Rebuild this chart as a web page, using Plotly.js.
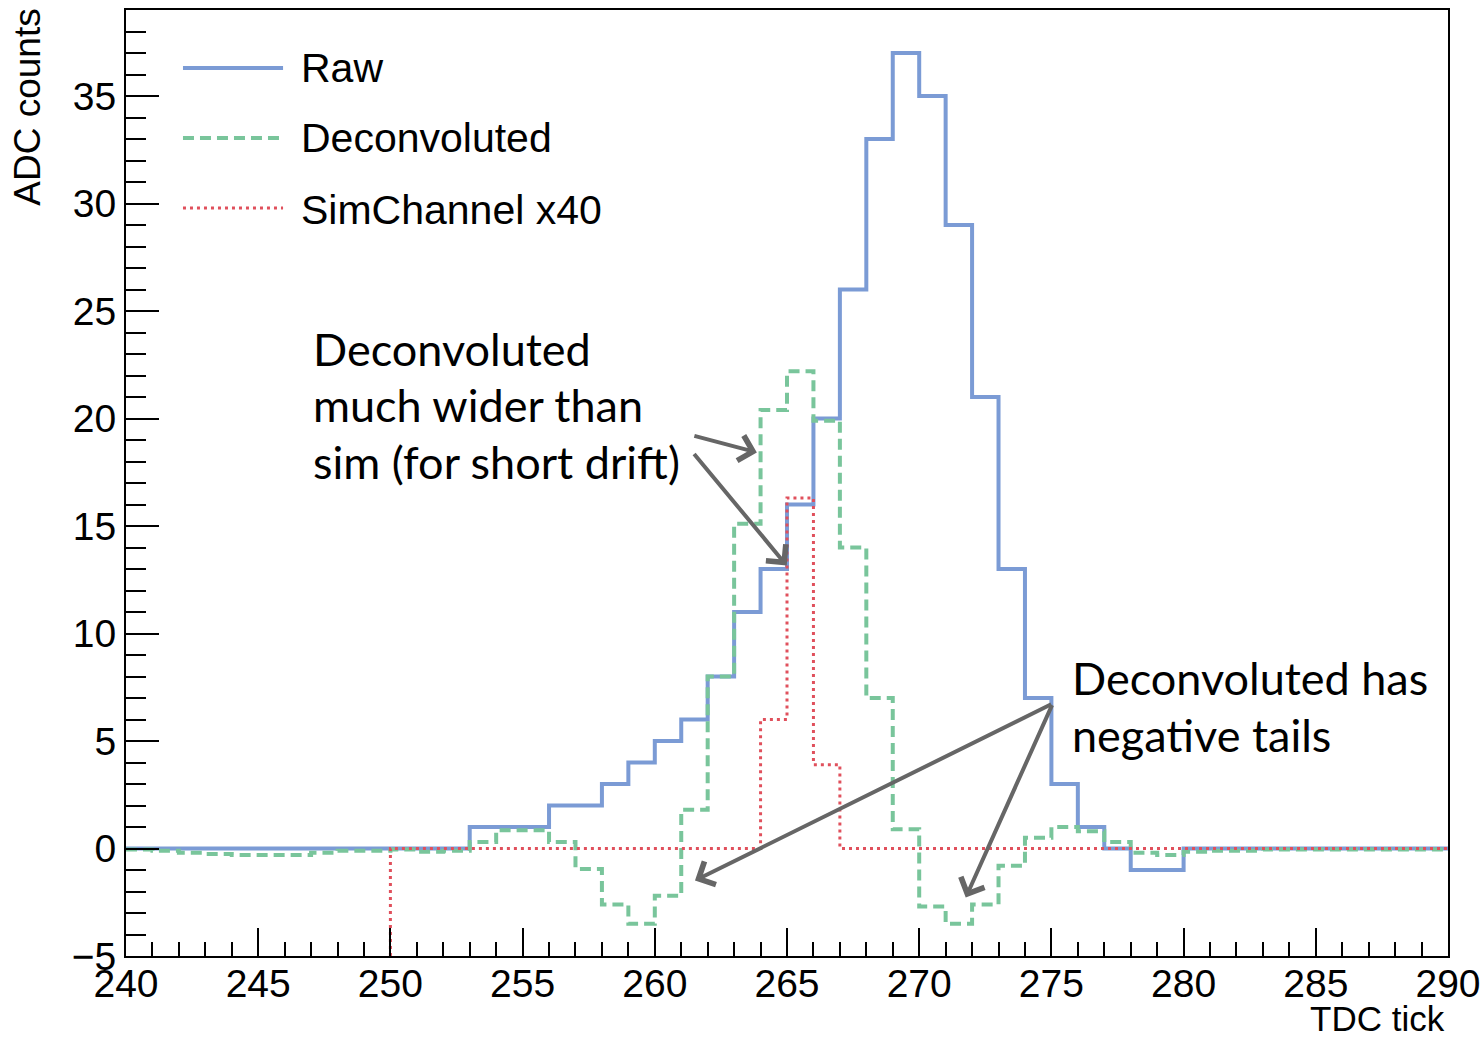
<!DOCTYPE html>
<html>
<head>
<meta charset="utf-8">
<script src="https://cdn.plot.ly/plotly-3.0.1.min.js"></script>
<style>html,body{margin:0;padding:0;background:#fff;}#chart{width:1480px;height:1041px;}</style>
</head>
<body>
<div id="chart"></div>
<script>
// ---- Data ----
// Bin edges for Raw and Deconvoluted histograms (TDC tick)
const binEdges = [240,241,242,243,244,245,246,247,248,249,250,251,252,253,254,255,256,257,258,259,
                  260,261,262,263,264,265,266,267,268,269,270,271,272,273,274,275,276,277,278,279,
                  280,281,282,283,284,285,286,287,288,289,290];
// Raw ADC counts per bin (240..289)
const rawCounts = [0,0,0,0,0,0,0,0,0,0,0,0,0,1,1,1,2,2,3,4,
                   5,6,8,11,13,16,20,26,33,37,35,29,21,13,7,3,1,0,-1,-1,
                   0,0,0,0,0,0,0,0,0,0];
// Deconvoluted per bin (240..289)
const deconvCounts = [-0.05,-0.1,-0.2,-0.25,-0.3,-0.3,-0.3,-0.2,-0.1,-0.1,-0.05,-0.15,-0.1,0.3,0.85,0.85,0.3,-0.95,-2.6,-3.5,
                      -2.2,1.8,8,15.1,20.4,22.2,19.9,14,7,0.9,-2.7,-3.5,-2.6,-0.8,0.5,1.0,0.8,0.3,-0.2,-0.3,
                      -0.15,-0.1,-0.1,-0.05,-0.05,-0.05,-0.05,-0.05,-0.05,-0.05];
// SimChannel x40 histogram starts at 250
const simEdges = [250,251,252,253,254,255,256,257,258,259,260,261,262,263,264,265,266,267,268,269,
                  270,271,272,273,274,275,276,277,278,279,280,281,282,283,284,285,286,287,288,289,290];
const simCounts = [0,0,0,0,0,0,0,0,0,0,0,0,0,0,6,16.3,3.9,0,0,0,
                   0,0,0,0,0,0,0,0,0,0,0,0,0,0,0,0,0,0,0,0];
const seriesNames = ["Raw", "Deconvoluted", "SimChannel x40"];
const xTickVals = [240,245,250,255,260,265,270,275,280,285,290];
const yTickVals = [-5,0,5,10,15,20,25,30,35];
const note1Lines = ["Deconvoluted", "much wider than", "sim (for short drift)"];
const note2Lines = ["Deconvoluted has", "negative tails"];

// ---- Styles ----
const X_RANGE = [240, 290];
const Y_RANGE = [-5, 39];
const COLORS = ["#7b9bd5", "#79c59b", "#e0505c"];
const DASHES = ["solid", "11px,6px", "3px,4px"];
const WIDTHS = [4, 4, 3];
const SANS = "Liberation Sans, Arial, sans-serif";
const AXFONT = {family: SANS, size: 39, color: "#000"};
const NOTEFONT = {family: "Lato, Open Sans, sans-serif", size: 45, color: "#000"};

function stepTrace(edges, vals, idx, fromBottom) {
  const x = edges.slice();
  const y = vals.concat([vals[vals.length - 1]]);
  if (fromBottom) { x.unshift(edges[0]); y.unshift(Y_RANGE[0]); }
  return {
    type: "scatter", mode: "lines", x: x, y: y, name: seriesNames[idx],
    line: {shape: "hv", color: COLORS[idx], width: WIDTHS[idx], dash: DASHES[idx]},
    showlegend: false, hoverinfo: "skip"
  };
}

const traces = [
  stepTrace(binEdges, rawCounts, 0, false),
  stepTrace(binEdges, deconvCounts, 1, false),
  stepTrace(simEdges, simCounts, 2, true)
];

// ---- Legend drawn manually (long line samples as in the reference) ----
const legendY = [0.9387, 0.8647, 0.7907];
const shapes = seriesNames.map((n, i) => ({
  type: "line", xref: "paper", yref: "paper", x0: 0.0431, x1: 0.1188, y0: legendY[i], y1: legendY[i],
  line: {color: COLORS[i], width: WIDTHS[i], dash: DASHES[i]}
}));
const annotations = seriesNames.map((n, i) => ({
  xref: "paper", yref: "paper", x: 0.1312, y: legendY[i] - (i === 2 ? 0.002 : 0), xanchor: "left", yanchor: "middle",
  text: n, showarrow: false, font: {family: SANS, size: 41, color: "#000"}
}));

// Axis titles
annotations.push({xref: "paper", yref: "paper", x: -0.0741, y: 1.003, xanchor: "center", yanchor: "top",
  text: "ADC counts", textangle: -90, showarrow: false, font: {family: SANS, size: 37, color: "#000"}});
annotations.push({xref: "paper", yref: "paper", x: 0.9995, y: -0.0885, xanchor: "right", yanchor: "bottom",
  text: "TDC tick", showarrow: false, font: {family: SANS, size: 35, color: "#000"}});

// Notes (one annotation per line to match the reference's line spacing)
const note1Y = [23.21, 20.65, 18.0];
note1Lines.forEach((t, i) => annotations.push({xref: "x", yref: "y", x: 246.98, y: note1Y[i],
  xanchor: "left", yanchor: "middle", text: t, showarrow: false, font: NOTEFONT}));
const note2Y = [7.91, 5.30];
note2Lines.forEach((t, i) => annotations.push({xref: "x", yref: "y", x: 275.72, y: note2Y[i],
  xanchor: "left", yanchor: "middle", text: t, showarrow: false, font: NOTEFONT}));

// Arrows: head (x,y), tail (ax,ay) in data coordinates
const arrows = [
  {x: 263.86, y: 18.42, ax: 261.44, ay: 19.21},
  {x: 264.99, y: 13.16, ax: 261.44, ay: 18.42},
  {x: 261.52, y: -1.49, ax: 275.05, ay: 6.74},
  {x: 271.76, y: -2.28, ax: 275.05, ay: 6.74}
];
arrows.forEach(a => annotations.push({
  xref: "x", yref: "y", axref: "x", ayref: "y", x: a.x, y: a.y, ax: a.ax, ay: a.ay,
  text: "", showarrow: true, arrowhead: 4, arrowsize: 1.25, arrowwidth: 4, arrowcolor: "#666666"
}));

const axisCommon = {
  showgrid: false, zeroline: false, showline: true, mirror: true,
  linecolor: "#000", linewidth: 2, ticks: "inside", tickcolor: "#000", tickwidth: 2,
  tickfont: AXFONT, fixedrange: true, ticklabeloverflow: "allow"
};

const layout = {
  width: 1480, height: 1041,
  margin: {l: 126, r: 32, t: 10, b: 85, pad: 0},
  paper_bgcolor: "#fff", plot_bgcolor: "#fff",
  xaxis: Object.assign({}, axisCommon, {
    range: X_RANGE, tickmode: "array", tickvals: xTickVals, ticklen: 28, ticklabelstandoff: -8,
    minor: {dtick: 1, tick0: 240, ticks: "inside", ticklen: 14, tickwidth: 2, tickcolor: "#000"}
  }),
  yaxis: Object.assign({}, axisCommon, {
    range: Y_RANGE, tickmode: "array", tickvals: yTickVals, ticklen: 33,
    minor: {dtick: 1, tick0: 0, ticks: "inside", ticklen: 20, tickwidth: 2, tickcolor: "#000"}
  }),
  shapes: shapes,
  annotations: annotations,
  showlegend: false
};

Plotly.newPlot("chart", traces, layout, {staticPlot: true, displayModeBar: false});
</script>
</body>
</html>
